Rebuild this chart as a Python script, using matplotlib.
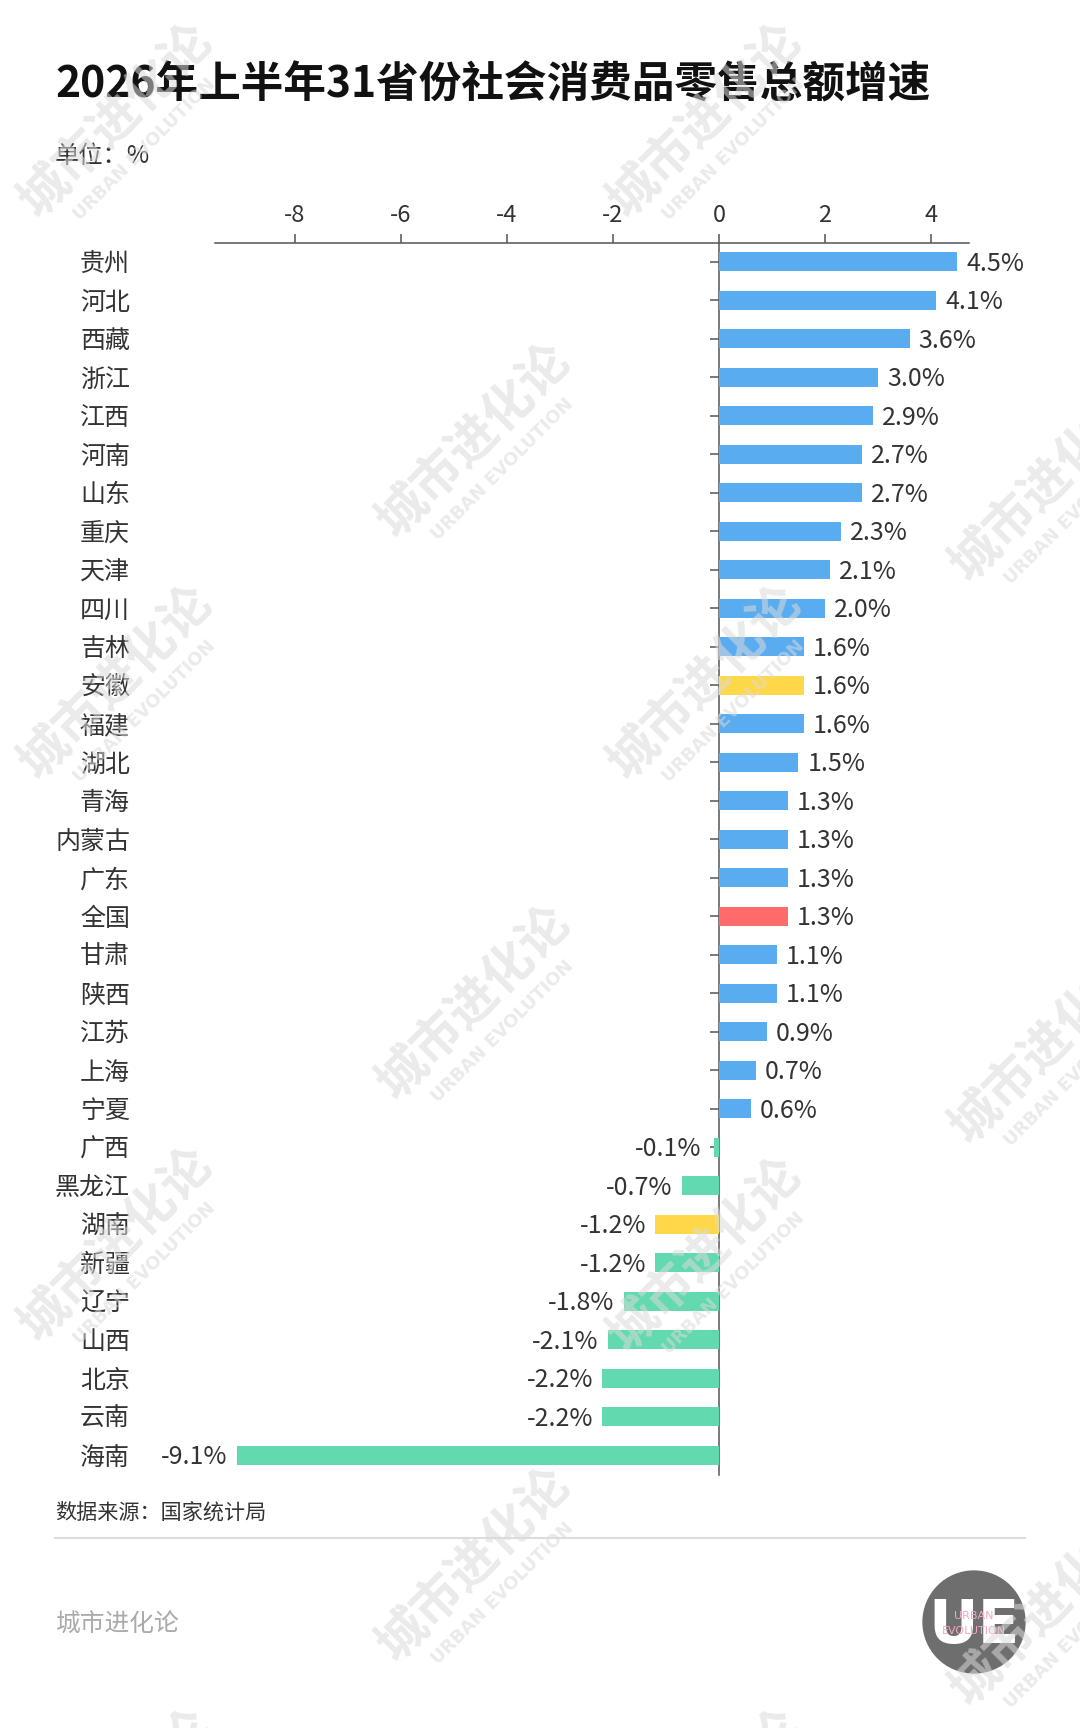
import matplotlib
matplotlib.use("Agg")
import matplotlib.pyplot as plt
from matplotlib.patches import Circle
import matplotlib.lines as mlines

plt.rcParams['font.family'] = ['Noto Sans CJK SC', 'DejaVu Sans']
plt.rcParams['axes.unicode_minus'] = False

# ---------------- data ----------------
provinces = ["贵州", "河北", "西藏", "浙江", "江西", "河南", "山东", "重庆", "天津", "四川",
             "吉林", "安徽", "福建", "湖北", "青海", "内蒙古", "广东", "全国", "甘肃", "陕西",
             "江苏", "上海", "宁夏", "广西", "黑龙江", "湖南", "新疆", "辽宁", "山西", "北京",
             "云南", "海南"]
growth = [4.5, 4.1, 3.6, 3.0, 2.9, 2.7, 2.7, 2.3, 2.1, 2.0,
          1.6, 1.6, 1.6, 1.5, 1.3, 1.3, 1.3, 1.3, 1.1, 1.1,
          0.9, 0.7, 0.6, -0.1, -0.7, -1.2, -1.2, -1.8, -2.1, -2.2,
          -2.2, -9.1]
highlight_yellow = ["安徽", "湖南"]
highlight_red = ["全国"]
x_ticks = [-8, -6, -4, -2, 0, 2, 4]
x_tick_labels = ["-8", "-6", "-4", "-2", "0", "2", "4"]

title = "2026年上半年31省份社会消费品零售总额增速"
unit_text = "单位：%"
source_text = "数据来源：国家统计局"
brand_text = "城市进化论"

BLUE = "#5AACF0"
GREEN = "#62D9AE"
YELLOW = "#FFD84A"
RED = "#FF6B6B"

colors = []
for p, v in zip(provinces, growth):
    if p in highlight_red:
        colors.append(RED)
    elif p in highlight_yellow:
        colors.append(YELLOW)
    elif v < 0:
        colors.append(GREEN)
    else:
        colors.append(BLUE)

W, H = 1080, 1728
fig = plt.figure(figsize=(W / 100, H / 100), dpi=100)
fig.patch.set_facecolor("white")

# main axes (pixel geometry)
ax_l, ax_r, ax_t, ax_b = 215, 969, 242.5, 1474.5
ax = fig.add_axes([ax_l / W, 1 - ax_b / H, (ax_r - ax_l) / W, (ax_b - ax_t) / H])
n = len(provinces)
ypos = list(range(n))
ax.barh(ypos, growth, height=0.5, color=colors, zorder=3)
ax.set_xlim(-9.51, 4.72)
ax.set_ylim(n - 0.5, -0.5)
ax.set_axisbelow(True)

for s in ["right", "bottom"]:
    ax.spines[s].set_visible(False)
ax.spines["left"].set_position(("data", 0))
for s in ["top", "left"]:
    ax.spines[s].set_color("#555555")
    ax.spines[s].set_linewidth(1.1)

ax.xaxis.tick_top()
ax.set_xticks(x_ticks)
ax.set_xticklabels(x_tick_labels)
ax.tick_params(axis="x", direction="out", length=6.5, width=1.1, color="#555555",
               labelcolor="#333333", labelsize=17, pad=4.5)
ax.set_yticks(ypos)
ax.set_yticklabels([""] * n)
ax.tick_params(axis="y", direction="out", length=6.5, width=1.1, color="#555555")

label_x = (130 - ax_l) / (ax_r - ax_l)
for i, p in enumerate(provinces):
    ax.annotate(p, (label_x, i), xycoords=ax.get_yaxis_transform(), xytext=(0, -1.8),
                textcoords="offset points", ha="right", va="center",
                fontsize=18, color="#333333")

for i, v in enumerate(growth):
    txt = f"{v:.1f}%"
    if v >= 0:
        ax.annotate(txt, (v, i), xytext=(6.5, -1.5), textcoords="offset points",
                    ha="left", va="center", fontsize=18, color="#333333")
    else:
        off = -6.5 if v < -0.3 else -9
        ax.annotate(txt, (v, i), xytext=(off, -1.5), textcoords="offset points",
                    ha="right", va="center", fontsize=18, color="#333333")

# texts
fig.text(55 / W, 1 - 84 / H, title, fontsize=30.7, fontweight="bold", color="#111111",
         va="center", ha="left")
fig.text(55 / W, 1 - 156 / H, unit_text, fontsize=17.5, color="#333333", va="center", ha="left")
fig.text(55 / W, 1 - 1513 / H, source_text, fontsize=15.2, color="#333333", va="center", ha="left")
fig.add_artist(mlines.Line2D([55 / W, 1025 / W], [1 - 1538 / H, 1 - 1538 / H],
                             color="#dddddd", linewidth=1.5))
fig.text(55 / W, 1 - 1625 / H, brand_text, fontsize=17.8, color="#aaaaaa", va="center", ha="left")

# logo
lax = fig.add_axes([(974 - 52) / W, 1 - (1622 + 52) / H, 104 / W, 104 / H])
lax.set_xlim(-1, 1)
lax.set_ylim(-1, 1)
lax.axis("off")
lax.add_patch(Circle((0, 0), 0.98, color="#6e6e6e"))
lax.text(0.0, -0.08, "UE", fontsize=44, fontweight="bold", color="white", ha="center",
         va="center", family="DejaVu Sans")
lax.text(0.0, 0.12, "URBAN", fontsize=8, color="#f4a6c6", ha="center", va="center",
         family="DejaVu Sans")
lax.text(0.0, -0.18, "EVOLUTION", fontsize=8, color="#f4a6c6", ha="center", va="center",
         family="DejaVu Sans")

# watermarks
wm_pos = [(116, 121), (705, 121), (474, 441), (1047, 485), (116, 683), (705, 683),
          (474, 1003), (1047, 1047), (116, 1245), (705, 1255), (474, 1565), (1047, 1609),
          (116, 1807), (705, 1807)]
for (cx, cy) in wm_pos:
    fig.text(cx / W, 1 - cy / H, "城市进化论", fontsize=36, fontweight="bold", color="#dadada",
             alpha=0.55, rotation=45, ha="center", va="center", rotation_mode="anchor", zorder=10)
    ox, oy = cx + 0.707 * 40, cy + 0.707 * 40
    fig.text(ox / W, 1 - oy / H, "URBAN EVOLUTION", fontsize=13, fontweight="bold",
             color="#dadada", alpha=0.55, rotation=45, ha="center", va="center",
             rotation_mode="anchor", zorder=10, family="DejaVu Sans")

fig.savefig("out.png", dpi=100, facecolor="white")
